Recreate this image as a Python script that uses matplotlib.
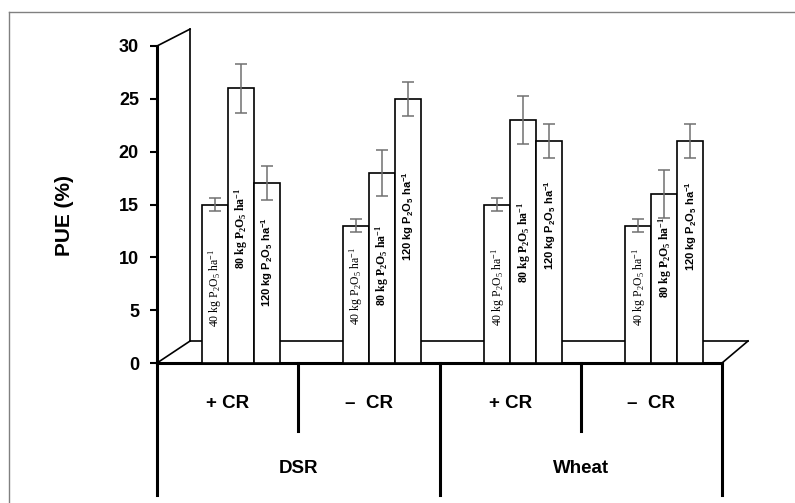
import matplotlib
matplotlib.use("Agg")
import matplotlib.pyplot as plt
from matplotlib.lines import Line2D
import numpy as np

# ---- data ----
treatments = ['+ CR', '\u2013  CR', '+ CR', '\u2013  CR']
crops = ['DSR', 'Wheat']
rates = ['40', '80', '120']
pue = [[15, 26, 17],
       [13, 18, 25],
       [15, 23, 21],
       [13, 16, 21]]
pue_err = [[0.6, 2.3, 1.6],
           [0.6, 2.2, 1.6],
           [0.6, 2.3, 1.6],
           [0.6, 2.3, 1.6]]
yticks = [0, 5, 10, 15, 20, 25, 30]

# label placement (vertical centre of in-bar text, in data units)
label_y = [[7.1, 12.7, 9.6],
           [7.3, 9.2, 13.9],
           [7.2, 11.4, 13.1],
           [7.2, 10.0, 13.0]]

plt.rcParams['font.family'] = ['Liberation Sans', 'DejaVu Sans']
plt.rcParams['mathtext.default'] = 'regular'

W, H = 795, 503
fig = plt.figure(figsize=(W / 100, H / 100), dpi=100)
ax = fig.add_axes([157 / W, 1 - 363 / H, (722 - 157) / W, (363 - 46) / H])
ax.set_xlim(0, 4)
ax.set_ylim(0, 30)

for s in ['top', 'right']:
    ax.spines[s].set_visible(False)
ax.spines['left'].set_linewidth(2.2)
ax.spines['bottom'].set_linewidth(2.2)
ax.set_xticks([])
ax.set_yticks(yticks)
ax.tick_params(axis='y', direction='out', length=5, width=1.5, pad=8,
               labelsize=13)
for t in ax.get_yticklabels():
    t.set_fontweight('bold')

# ---- pseudo-3D wall and floor ----
dx_left, dx_right, y_floor, y_walltop = 0.234, 0.184, 2.08, 31.6
kw = dict(color='black', lw=1.2, clip_on=False, zorder=2)
ax.plot([0, dx_left], [30, y_walltop], **kw)
ax.plot([dx_left, dx_left], [y_walltop, y_floor], **kw)
ax.plot([0, dx_left], [0, y_floor], **kw)
ax.plot([dx_left, 4 + dx_right], [y_floor, y_floor], **kw)
ax.plot([4, 4 + dx_right], [0, y_floor], **kw)

# ---- bars ----
bw = 0.184
shift = 0.092
for i in range(len(treatments)):
    xs = i + 0.5 + shift + (np.arange(3) - 1) * bw
    ax.bar(xs, pue[i], width=bw, color='white', edgecolor='black',
           linewidth=1.2, zorder=3)
    ax.errorbar(xs, pue[i], yerr=pue_err[i], fmt='none', ecolor='#707070',
                elinewidth=1.1, capsize=4, capthick=1.1, zorder=4)
    for j, r in enumerate(rates):
        txt = r + r' kg P$_2$O$_5$ ha$^{-1}$'
        if r == '120':
            ax.text(xs[j] + 0.005, label_y[i][j], txt, rotation=90, ha='center',
                    va='center', fontsize=8, fontweight='bold',
                    fontfamily='Liberation Sans', zorder=5)
        else:
            ax.text(xs[j] + 0.005, label_y[i][j], txt, rotation=90, ha='center',
                    va='center', fontsize=8.5,
                    fontweight='bold' if r == '80' else 'normal',
                    fontfamily='Liberation Serif', zorder=5)

# ---- category axis below ----
y_short, y_long = -6.43, -12.5
for xd in [1, 3]:
    ax.plot([xd, xd], [0, y_short], color='black', lw=2.2, clip_on=False)
for xd in [0, 2, 4]:
    ax.plot([xd, xd], [0, y_long], color='black', lw=2.2, clip_on=False)
for i, t in enumerate(treatments):
    ax.text(i + 0.5, -3.88, t, ha='center', va='center', fontsize=13.5,
            fontweight='bold', clip_on=False)
for k, c in enumerate(crops):
    ax.text(2 * k + 1, -10.0, c, ha='center', va='center', fontsize=13.5,
            fontweight='bold', clip_on=False)

# ---- y label ----
fig.text(65 / W, 1 - 216 / H, 'PUE (%)', rotation=90, ha='center',
         va='center', fontsize=15, fontweight='bold')

# ---- outer frame ----
fig.add_artist(Line2D([9 / W, 1], [1 - 12 / H, 1 - 12 / H],
                      transform=fig.transFigure, color='#808080', lw=1))
fig.add_artist(Line2D([9 / W, 9 / W], [0, 1 - 12 / H],
                      transform=fig.transFigure, color='#808080', lw=1))

fig.savefig('out.png', dpi=100)
